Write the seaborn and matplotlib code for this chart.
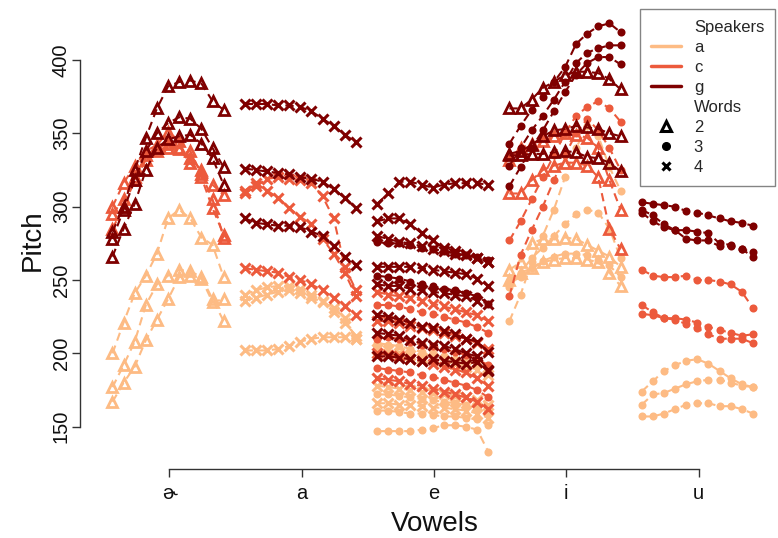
import matplotlib
matplotlib.use("Agg")
import matplotlib.pyplot as plt
from matplotlib.lines import Line2D
import numpy as np
import pandas as pd
import seaborn as sns

# ---------------- data ----------------
vowels = ["\u025a", "a", "e", "i", "u"]
speakers = ["a", "c", "g"]
words = ["2", "3", "4"]
speaker_colors = ["#FDBB84", "#EC5A3C", "#7F0000"]

# each entry: (speaker, word, pitch at 11 successive time points)
schwa_lines = [
    ("a", "2", [200, 221, 241, 253, 268, 292, 298, 292, 279, 274, 252]),
    ("a", "2", [177, 192, 208, 233, 247, 253, 257, 256, 252, 237, 222]),
    ("a", "2", [167, 180, 191, 209, 223, 237, 252, 253, 251, 235, 237]),
    ("c", "2", [300, 316, 328, 338, 342, 351, 345, 333, 325, 315, 308]),
    ("c", "2", [295, 305, 320, 335, 340, 343, 339, 330, 320, 299, 281]),
    ("c", "2", [285, 300, 318, 332, 338, 340, 340, 338, 322, 305, 279]),
    ("g", "2", [283, 300, 325, 347, 367, 382, 385, 386, 384, 372, 366]),
    ("g", "2", [278, 298, 318, 338, 350, 357, 361, 360, 353, 340, 327]),
    ("g", "2", [266, 285, 302, 325, 340, 346, 348, 349, 343, 333, 315]),
]
a_lines = [
    ("a", "4", [240, 243, 245, 246, 246, 244, 240, 236, 228, 221, 212]),
    ("a", "4", [236, 238, 240, 242, 243, 241, 238, 235, 231, 224, 210]),
    ("a", "4", [202, 202, 202, 203, 205, 208, 210, 211, 211, 211, 210]),
    ("c", "4", [309, 314, 319, 320, 319, 318, 316, 307, 292, 259, 243]),
    ("c", "4", [311, 316, 311, 306, 299, 293, 288, 278, 268, 255, 239]),
    ("c", "4", [258, 257, 256, 255, 252, 250, 247, 243, 238, 232, 226]),
    ("g", "4", [370, 370, 370, 369, 369, 368, 365, 360, 355, 349, 344]),
    ("g", "4", [326, 325, 324, 323, 322, 320, 319, 317, 312, 306, 299]),
    ("g", "4", [292, 289, 288, 287, 287, 286, 283, 280, 273, 266, 260]),
]
e_lines = [
    ("a", "3", [147, 147, 147, 147, 148, 149, 151, 151, 150, 148, 133]),
    ("a", "3", [207, 206, 205, 203, 201, 200, 198, 196, 195, 193, 190]),
    ("a", "4", [203, 202, 200, 199, 197, 196, 194, 193, 191, 189, 185]),
    ("a", "4", [178, 177, 176, 175, 174, 173, 172, 171, 170, 168, 165]),
    ("a", "3", [172, 172, 171, 170, 169, 168, 167, 166, 165, 163, 160]),
    ("a", "4", [166, 166, 165, 165, 164, 163, 163, 162, 161, 159, 156]),
    ("a", "3", [161, 161, 160, 159, 159, 158, 157, 157, 156, 155, 151]),
    ("c", "4", [242, 240, 239, 238, 236, 234, 232, 230, 228, 226, 222]),
    ("c", "3", [233, 233, 232, 230, 228, 227, 225, 223, 221, 218, 214]),
    ("c", "4", [222, 222, 221, 219, 217, 216, 214, 212, 210, 207, 203]),
    ("c", "3", [210, 211, 210, 208, 206, 205, 203, 201, 199, 196, 192]),
    ("c", "4", [200, 199, 198, 196, 195, 193, 191, 189, 187, 183, 178]),
    ("c", "3", [190, 189, 188, 187, 185, 184, 182, 180, 178, 175, 170]),
    ("c", "4", [183, 182, 181, 179, 178, 176, 174, 172, 170, 167, 162]),
    ("g", "4", [302, 309, 317, 317, 315, 313, 315, 316, 316, 316, 315]),
    ("g", "4", [290, 292, 292, 288, 282, 277, 272, 270, 268, 265, 262]),
    ("g", "4", [280, 278, 276, 275, 273, 271, 270, 268, 267, 265, 262]),
    ("g", "3", [276, 275, 275, 274, 272, 271, 270, 268, 267, 266, 264]),
    ("g", "4", [259, 259, 259, 259, 258, 257, 256, 255, 254, 251, 246]),
    ("g", "3", [253, 252, 251, 249, 247, 246, 244, 243, 241, 239, 234]),
    ("g", "4", [247, 246, 246, 244, 243, 242, 241, 240, 239, 236, 234]),
    ("g", "4", [226, 225, 223, 221, 218, 217, 215, 213, 210, 208, 201]),
    ("g", "4", [214, 213, 212, 209, 207, 206, 205, 203, 200, 198, 189]),
    ("g", "4", [198, 198, 197, 196, 195, 196, 195, 194, 193, 194, 188]),
]
i_lines = [
    ("a", "2", [257, 262, 275, 278, 278, 279, 278, 274, 270, 266, 259]),
    ("a", "2", [250, 255, 258, 262, 264, 265, 265, 264, 262, 255, 246]),
    ("a", "3", [222, 240, 262, 280, 298, 320, 340, 355, 348, 327, 311]),
    ("a", "3", [245, 255, 265, 272, 280, 288, 295, 298, 296, 285, 265]),
    ("a", "3", [248, 252, 258, 263, 266, 268, 268, 267, 264, 260, 252]),
    ("c", "2", [332, 340, 343, 345, 348, 350, 349, 347, 340, 318, 298]),
    ("c", "2", [309, 309, 318, 325, 328, 330, 330, 328, 320, 285, 271]),
    ("c", "3", [277, 290, 305, 320, 335, 350, 362, 368, 372, 367, 358]),
    ("c", "3", [239, 267, 284, 300, 318, 335, 350, 360, 352, 340, 325]),
    ("g", "2", [367, 367, 373, 381, 385, 390, 392, 392, 391, 387, 380]),
    ("g", "2", [336, 338, 342, 348, 352, 353, 355, 354, 353, 350, 348]),
    ("g", "2", [335, 335, 336, 336, 337, 338, 337, 334, 333, 330, 324]),
    ("g", "3", [343, 355, 366, 375, 385, 395, 411, 418, 423, 425, 419]),
    ("g", "3", [328, 340, 352, 362, 373, 385, 398, 405, 408, 410, 410]),
    ("g", "3", [314, 327, 340, 352, 365, 378, 390, 398, 402, 402, 397]),
]
u_lines = [
    ("a", "3", [174, 181, 188, 192, 195, 196, 193, 188, 183, 179, 177]),
    ("a", "3", [165, 172, 173, 176, 179, 181, 182, 182, 180, 178, 177]),
    ("a", "3", [157, 157, 159, 162, 165, 166, 166, 164, 164, 162, 159]),
    ("c", "3", [257, 253, 252, 252, 253, 250, 250, 249, 247, 242, 231]),
    ("c", "3", [233, 228, 224, 224, 223, 221, 218, 216, 214, 212, 213]),
    ("c", "3", [227, 226, 224, 223, 220, 217, 213, 210, 210, 210, 207]),
    ("g", "3", [303, 302, 301, 300, 297, 296, 294, 292, 290, 289, 287]),
    ("g", "3", [298, 294, 288, 284, 284, 283, 282, 275, 274, 271, 269]),
    ("g", "3", [296, 290, 286, 284, 278, 277, 277, 273, 273, 271, 266]),
]
vowel_lines = [schwa_lines, a_lines, e_lines, i_lines, u_lines]

# ---------------- build table ----------------
rows = []
for vi, lines in enumerate(vowel_lines):
    for li, (spk, wd, vals) in enumerate(lines):
        for t, p in enumerate(vals):
            rows.append(dict(vowel=vi, t=t, line=f"{vi}-{li}",
                             speaker=spk, word=wd, pitch=p))
df = pd.DataFrame(rows)
# time within each vowel spread over the vowel's slot on the axis
df["x"] = df["vowel"] - 0.43 + 0.084 * df["t"]

# ---------------- plot ----------------
sns.set_style("white")
plt.rcParams["font.family"] = ["Liberation Sans", "DejaVu Sans"]

W, H = 778, 538
fig = plt.figure(figsize=(W / 100, H / 100), dpi=100)
ax = fig.add_axes([90 / W, (H - 459) / H, 688 / W, (459 - 16) / H])

palette = dict(zip(speakers, speaker_colors))
sns.lineplot(
    data=df, x="x", y="pitch", hue="speaker", hue_order=speakers,
    palette=palette, style="word", style_order=words,
    markers={"2": "^", "3": "o", "4": "X"},
    dashes={"2": (4, 2.5), "3": (4, 2.5), "4": (4, 2.5)},
    units="line", estimator=None, sort=False, legend=False,
    lw=1.5, ax=ax,
)

for ln in ax.lines:
    c = ln.get_color()
    m = ln.get_marker()
    if m == "^":
        ln.set_markerfacecolor("none")
        ln.set_markeredgecolor(c)
        ln.set_markeredgewidth(2.0)
        ln.set_markersize(7.5)
    elif m == "o":
        ln.set_markerfacecolor(c)
        ln.set_markeredgecolor(c)
        ln.set_markeredgewidth(0)
        ln.set_markersize(5.8)
    else:
        ln.set_marker("x")
        ln.set_markeredgecolor(c)
        ln.set_markeredgewidth(2.2)
        ln.set_markersize(6.5)

ax.set_xlim(-0.6, 4.6)
ax.set_ylim(128, 430)
ax.set_xticks(range(len(vowels)))
ax.set_xticklabels(vowels)
yt = [150, 200, 250, 300, 350, 400]
ax.set_yticks(yt)
ax.set_yticklabels([str(v) for v in yt], rotation=90, va="center")

for s in ["top", "right"]:
    ax.spines[s].set_visible(False)
ax.spines["left"].set_position(("outward", 7.2))
ax.spines["bottom"].set_position(("outward", 7.2))
ax.spines["left"].set_bounds(150, 400)
ax.spines["bottom"].set_bounds(0, 4)
for s in ["left", "bottom"]:
    ax.spines[s].set_color("#333333")
    ax.spines[s].set_linewidth(1.0)
ax.tick_params(axis="both", direction="out", length=6, width=1.0,
               color="#333333", labelsize=14.5, labelcolor="#111111",
               left=True, bottom=True)
ax.tick_params(axis="x", pad=4.5)
ax.tick_params(axis="y", pad=0.5, labelrotation=90)
for lab in ax.get_yticklabels():
    lab.set_va("center")

ax.set_xlabel("Vowels", fontsize=20, color="#111111")
ax.set_ylabel("Pitch", fontsize=20, color="#111111")
ax.xaxis.label.set_va("center")
ax.yaxis.label.set_va("center")
ax.xaxis.set_label_coords((435 - 90) / 688, (459 - 524) / 443)
ax.yaxis.set_label_coords((33 - 90) / 688, (459 - 240) / 443)

# ---------------- legend ----------------
blank = Line2D([], [], linestyle="none")
handles = [blank]
labels = ["Speakers"]
for s, c in zip(speakers, speaker_colors):
    handles.append(Line2D([], [], color=c, lw=2.5))
    labels.append(s)
handles.append(blank)
labels.append("Words")
handles.append(Line2D([], [], linestyle="none", marker="^", mfc="none",
                      mec="black", mew=2.2, ms=6.5))
handles.append(Line2D([], [], linestyle="none", marker="o", mfc="black",
                      mec="black", ms=5.5))
handles.append(Line2D([], [], linestyle="none", marker="x", mec="black",
                      mew=2.2, ms=6))
labels += words
leg = fig.legend(handles, labels, loc="upper right",
                 bbox_to_anchor=(775 / W, 1 - 9 / H), frameon=True,
                 fancybox=False, edgecolor="#666666", fontsize=12,
                 handlelength=1.8, handletextpad=0.75, labelspacing=0.3,
                 borderpad=0.65, borderaxespad=0)
leg.get_frame().set_linewidth(1.0)

fig.savefig("out.png", dpi=100, facecolor="white")
